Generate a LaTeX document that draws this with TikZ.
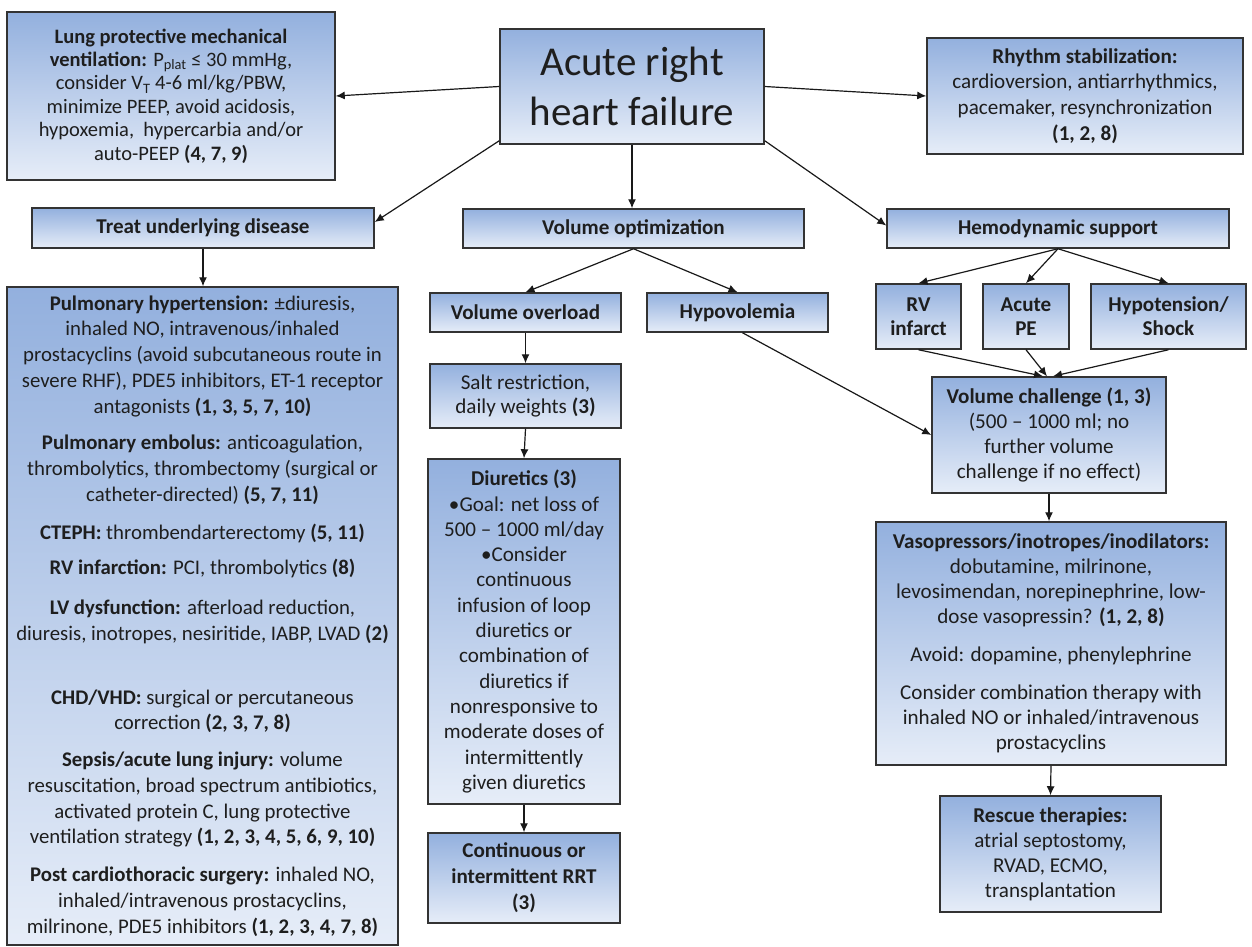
\documentclass[tikz,border=0pt]{standalone}
\usepackage{fontspec}
\setmainfont{Carlito}
\usetikzlibrary{arrows.meta,calc}
\definecolor{topc}{HTML}{93B0DE}
\definecolor{botc}{HTML}{E6EDF8}
\definecolor{edgec}{HTML}{333333}
\definecolor{txtc}{HTML}{1E1E1E}
\begin{document}
\begin{tikzpicture}[x=1pt,y=-1pt,
  box/.style={draw=edgec, line width=1.5pt, top color=topc, bottom color=botc,
    align=center, inner sep=0pt, text=txtc, font=\fontsize{21.1}{25}\selectfont},
  conn/.style={draw=black!90, line width=1.2pt, -{Latex[length=9pt,width=8pt]}}]
\useasboundingbox[fill=white] (0,0) rectangle (1252,947);

% top row
\node[box, minimum width=328pt, minimum height=168pt, font=\fontsize{20.5}{23.4}\selectfont] (lung) at (171,96)
 {\textbf{Lung protective mechanical}\\
  \textbf{ventilation:} P\textsubscript{plat} ≤ 30 mmHg,\\
  consider V\textsubscript{T} 4-6 ml/kg/PBW,\\
  minimize PEEP, avoid acidosis,\\
  hypoxemia,\ \ hypercarbia and/or\\
  auto-PEEP \textbf{(4, 7, 9)}};
\node[box, minimum width=264pt, minimum height=115pt, font=\fontsize{41}{50}\selectfont] (ahf) at (632,86.5)
 {Acute right\\heart failure};
\node[box, minimum width=316pt, minimum height=116pt, font=\fontsize{21.1}{25.8}\selectfont] (rhythm) at (1085,96)
 {\textbf{Rhythm stabilization:}\\
  cardioversion, antiarrhythmics,\\
  pacemaker, resynchronization\\
  \textbf{(1, 2, 8)}};

% second row
\node[box, minimum width=342pt, minimum height=40pt] (treat) at (203,228) {\textbf{Treat underlying disease}};
\node[box, minimum width=341pt, minimum height=39pt] (volopt) at (633.5,228.5) {\textbf{Volume optimization}};
\node[box, minimum width=342pt, minimum height=39pt] (hemo) at (1058,228.5) {\textbf{Hemodynamic support}};

% left column
\node[box, minimum width=391pt, minimum height=658pt, font=\fontsize{20.8}{25.75}\selectfont] (under) at (202.5,616)
 {\textbf{Pulmonary hypertension:} ±diuresis,\\
  inhaled NO, intravenous/inhaled\\
  prostacyclins (avoid subcutaneous route in\\
  severe RHF), PDE5 inhibitors, ET-1 receptor\\
  antagonists \textbf{(1, 3, 5, 7, 10)}\\[11pt]
  \textbf{Pulmonary embolus:} anticoagulation,\\
  thrombolytics, thrombectomy (surgical or\\
  catheter-directed) \textbf{(5, 7, 11)}\\[12pt]
  \textbf{CTEPH:} thrombendarterectomy \textbf{(5, 11)}\\[10pt]
  \textbf{RV infarction:} PCI, thrombolytics \textbf{(8)}\\[14pt]
  \textbf{LV dysfunction:} afterload reduction,\\
  diuresis, inotropes, nesiritide, IABP, LVAD \textbf{(2)}\\[38pt]
  \textbf{CHD/VHD:} surgical or percutaneous\\
  correction \textbf{(2, 3, 7, 8)}\\[11pt]
  \textbf{Sepsis/acute lung injury:} volume\\
  resuscitation, broad spectrum antibiotics,\\
  activated protein C, lung protective\\
  ventilation strategy \textbf{(1, 2, 3, 4, 5, 6, 9, 10)}\\[12pt]
  \textbf{Post cardiothoracic surgery:} inhaled NO,\\
  inhaled/intravenous prostacyclins,\\
  milrinone, PDE5 inhibitors \textbf{(1, 2, 3, 4, 7, 8)}};

% middle column
\node[box, minimum width=191pt, minimum height=39pt] (volover) at (525.5,312.5) {\textbf{Volume overload}};
\node[box, minimum width=181pt, minimum height=39pt] (hypovol) at (737.5,312.5) {\textbf{Hypovolemia}};
\node[box, minimum width=191pt, minimum height=64pt, font=\fontsize{21.1}{24}\selectfont] (salt) at (525.5,396)
 {Salt restriction,\\daily weights \textbf{(3)}};
\node[box, minimum width=192pt, minimum height=345pt, font=\fontsize{21.1}{25.3}\selectfont] (diur) at (524,631.5)
 {\textbf{Diuretics (3)}\\
  •Goal: net loss of\\
  500 – 1000 ml/day\\
  •Consider\\
  continuous\\
  infusion of loop\\
  diuretics or\\
  combination of\\
  diuretics if\\
  nonresponsive to\\
  moderate doses of\\
  intermittently\\
  given diuretics};
\node[box, minimum width=192pt, minimum height=90pt, font=\fontsize{21.1}{26}\selectfont] (rrt) at (524,878)
 {\textbf{Continuous or}\\\textbf{intermittent RRT}\\\textbf{(3)}};

% right column
\node[box, minimum width=85pt, minimum height=65pt, font=\fontsize{21.1}{24}\selectfont] (rv) at (918.5,316.5) {\textbf{RV}\\\textbf{infarct}};
\node[box, minimum width=86pt, minimum height=65pt, font=\fontsize{21.1}{24}\selectfont] (pe) at (1026,316.5) {\textbf{Acute}\\\textbf{PE}};
\node[box, minimum width=155pt, minimum height=65pt, font=\fontsize{21.1}{24}\selectfont] (hyp) at (1168.5,316.5) {\textbf{Hypotension/}\\\textbf{Shock}};
\node[box, minimum width=234pt, minimum height=116pt, font=\fontsize{21.1}{25}\selectfont] (vc) at (1049,435)
 {\textbf{Volume challenge (1, 3)}\\
  (500 – 1000 ml; no\\
  further volume\\
  challenge if no effect)};
\node[box, minimum width=350pt, minimum height=243pt, font=\fontsize{21.1}{25}\selectfont] (vaso) at (1051,643.5)
 {\textbf{Vasopressors/inotropes/inodilators:}\\
  dobutamine, milrinone,\\
  levosimendan, norepinephrine, low-\\
  dose vasopressin? \textbf{(1, 2, 8)}\\[13pt]
  Avoid: dopamine, phenylephrine\\[13pt]
  Consider combination therapy with\\
  inhaled NO or inhaled/intravenous\\
  prostacyclins};
\node[box, minimum width=221pt, minimum height=116pt, font=\fontsize{21.1}{25}\selectfont] (rescue) at (1050.5,854)
 {\textbf{Rescue therapies:}\\
  atrial septostomy,\\
  RVAD, ECMO,\\
  transplantation};

% connectors
\draw[conn] (ahf.west) -- (lung.east);
\draw[conn] (ahf.east) -- (rhythm.west);
\draw[conn] ($(ahf.south west)+(0,-4)$) -- ($(treat.east)+(0,-6)$);
\draw[conn] (ahf.south) -- (ahf.south |- volopt.north);
\draw[conn] ($(ahf.south east)+(0,-4)$) -- ($(hemo.west)+(0,-3)$);
\draw[conn] (treat.south) -- (treat.south |- under.north);
\draw[conn] (volopt.south) -- (volover.north);
\draw[conn] (volopt.south) -- (hypovol.north);
\draw[conn] (hemo.south) -- (rv.north);
\draw[conn] (hemo.south) -- (pe.north);
\draw[conn] (hemo.south) -- (hyp.north);
\draw[conn] (rv.south) -- ($(vc.north)+(-6,0)$);
\draw[conn] (pe.south) -- ($(vc.north)+(-2,0)$);
\draw[conn] (hyp.south) -- ($(vc.north)+(4,0)$);
\draw[conn] ($(hypovol.south)+(5,0)$) -- (vc.west);
\draw[conn] (volover.south) -- (salt.north);
\draw[conn] (salt.south) -- (diur.north);
\draw[conn] (diur.south) -- (rrt.north);
\draw[conn] (vc.south) -- (vc.south |- vaso.north);
\draw[conn] (vaso.south) -- (rescue.north);
\end{tikzpicture}
\end{document}
